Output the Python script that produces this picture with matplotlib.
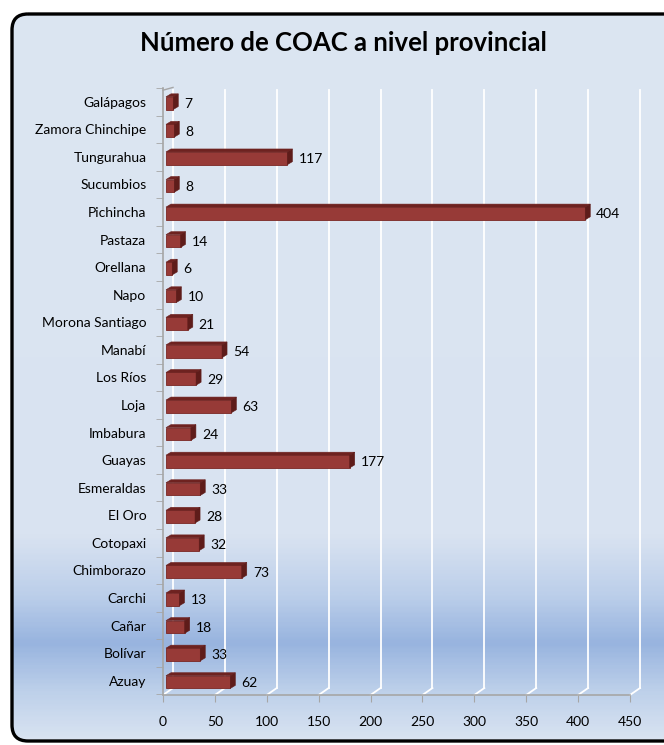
import numpy as np
import matplotlib.pyplot as plt
from matplotlib.patches import FancyBboxPatch, Polygon
from matplotlib.colors import LinearSegmentedColormap

plt.rcParams['font.family'] = ['Lato', 'DejaVu Sans']

# provincias de abajo hacia arriba
provincias = ['Azuay', 'Bolívar', 'Cañar', 'Carchi', 'Chimborazo', 'Cotopaxi',
              'El Oro', 'Esmeraldas', 'Guayas', 'Imbabura', 'Loja', 'Los Ríos',
              'Manabí', 'Morona Santiago', 'Napo', 'Orellana', 'Pastaza',
              'Pichincha', 'Sucumbios', 'Tungurahua', 'Zamora Chinchipe',
              'Galápagos']
coac = [62, 33, 18, 13, 73, 32, 28, 33, 177, 24, 63, 29, 54, 21, 10, 6, 14,
        404, 8, 117, 8, 7]
ticks_x = [0, 50, 100, 150, 200, 250, 300, 350, 400, 450]

W, H = 664, 745
fig = plt.figure(figsize=(W / 100, H / 100), dpi=100)

# fondo con marco redondeado y degradado
bg = fig.add_axes([0, 0, 1, 1])
bg.set_xlim(0, W)
bg.set_ylim(H, 0)
bg.axis('off')
marco = FancyBboxPatch((12, 14), 690, 727, boxstyle='round,pad=0,rounding_size=16',
                       facecolor='none', edgecolor='black', linewidth=2.4, zorder=3)
bg.add_patch(marco)
cmap = LinearSegmentedColormap.from_list('fondo', [
    (0.0, '#dce6f2'), (0.72, '#d9e3f1'), (0.80, '#bccfea'),
    (0.865, '#98b4df'), (0.93, '#bdd0ea'), (1.0, '#dbe5f2')])
grad = np.linspace(0, 1, 400).reshape(-1, 1)
img = bg.imshow(grad, cmap=cmap, extent=[0, W, H, 0], aspect='auto', zorder=1)
img.set_clip_path(marco)

bg.text(343, 43, 'Número de COAC a nivel provincial', ha='center', va='center',
        fontsize=18.5, fontweight='bold', color='black')

# area del grafico
x0, x1, ytop, ybot = 163, 630, 88, 695
ax = fig.add_axes([x0 / W, 1 - ybot / H, (x1 - x0) / W, (ybot - ytop) / H])
ax.patch.set_alpha(0)
n = len(provincias)
ylo, yhi = -0.52, n - 1 + 0.42
ax.set_xlim(0, 450)
ax.set_ylim(ylo, yhi)
sx = (x1 - x0) / 450.0
sy = (ybot - ytop) / (yhi - ylo)

# profundidad de la pared del fondo y de las barras (en pixeles)
wdx, wdy = 10 / sx, 7 / sy
bdx, bdy = 5 / sx, 3 / sy
sh = 3 / sx

for t in ticks_x:
    ax.plot([t + wdx, t + wdx], [ylo + wdy, yhi], color='white', lw=1.3,
            zorder=1, clip_on=False)
    ax.plot([t, t + wdx], [ylo, ylo + wdy], color='white', lw=1.3,
            zorder=1, clip_on=False)
ax.plot([0, wdx], [yhi, yhi + wdy * 0.4], color='#a6a6a6', lw=1, clip_on=False)

for sp in ['top', 'right']:
    ax.spines[sp].set_visible(False)
for sp in ['left', 'bottom']:
    ax.spines[sp].set_color('#a6a6a6')
    ax.spines[sp].set_linewidth(1.2)

ax.set_xticks(ticks_x)
ax.set_xticklabels([str(t) for t in ticks_x], fontsize=10)
ax.set_yticks(range(n))
ax.set_yticklabels(provincias, fontsize=10)
ax.set_yticks(np.arange(n + 1) - 0.5, minor=True)
ax.tick_params(axis='x', length=5, color='#a6a6a6', pad=10)
ax.tick_params(axis='y', which='major', length=0, pad=12)
ax.tick_params(axis='y', which='minor', length=5, color='#a6a6a6')

# barras con efecto 3D
h = 0.46
for i, v in enumerate(coac):
    yb, yt = i - h / 2 - 0.05, i + h / 2 - 0.05
    xa, xb = sh, v + sh
    ax.add_patch(Polygon([(xa, yb), (xb, yb), (xb, yt), (xa, yt)], closed=True,
                         facecolor='#973a37', edgecolor='#7a2623', lw=0.6, zorder=3))
    ax.add_patch(Polygon([(xa, yt), (xb, yt), (xb + bdx, yt + bdy), (xa + bdx, yt + bdy)],
                         closed=True, facecolor='#6e2220', edgecolor='#6e2220',
                         lw=0.4, zorder=3))
    ax.add_patch(Polygon([(xb, yb), (xb, yt), (xb + bdx, yt + bdy), (xb + bdx, yb + bdy)],
                         closed=True, facecolor='#5e1c1a', edgecolor='#5e1c1a',
                         lw=0.4, zorder=3))
    ax.text(xb + bdx + 6 / sx, i - 0.08, str(v), ha='left', va='center',
            fontsize=10, color='black', zorder=4)

fig.savefig('out.png', dpi=100)
